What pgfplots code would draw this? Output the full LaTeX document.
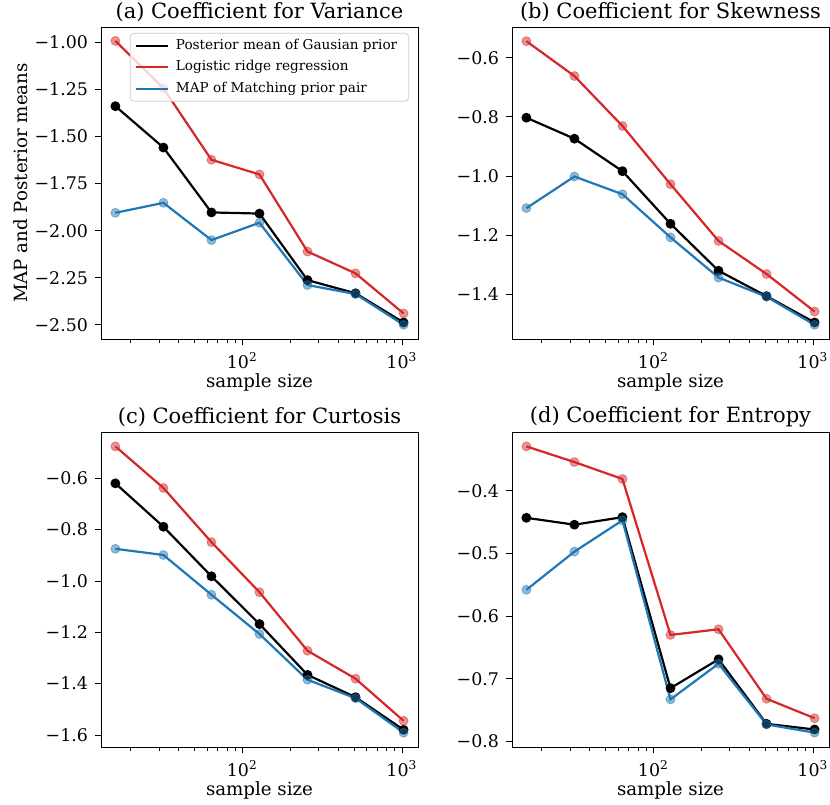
\documentclass[border=0pt]{standalone}
\usepackage{fontspec}
\setmainfont{DejaVu Serif}
\usepackage{pgfplots}
\pgfplotsset{compat=1.18}
\usepackage{pgfplotstable}

\definecolor{mplred}{HTML}{D62728}
\definecolor{mplblue}{HTML}{1F77B4}

\pgfplotstableread{
n black red blue
16 -1.338 -0.991 -1.905
32 -1.558 -1.243 -1.852
64 -1.903 -1.623 -2.050
128 -1.909 -1.701 -1.958
256 -2.263 -2.111 -2.289
512 -2.333 -2.227 -2.337
1024 -2.488 -2.440 -2.500
}\dataA
\pgfplotstableread{
n black red blue
16 -0.803 -0.544 -1.109
32 -0.874 -0.662 -1.002
64 -0.984 -0.831 -1.062
128 -1.162 -1.028 -1.208
256 -1.321 -1.220 -1.344
512 -1.407 -1.332 -1.409
1024 -1.496 -1.459 -1.504
}\dataB
\pgfplotstableread{
n black red blue
16 -0.620 -0.476 -0.875
32 -0.789 -0.638 -0.899
64 -0.982 -0.849 -1.054
128 -1.168 -1.044 -1.207
256 -1.366 -1.272 -1.385
512 -1.453 -1.381 -1.457
1024 -1.580 -1.545 -1.591
}\dataC
\pgfplotstableread{
n black red blue
16 -0.443 -0.329 -0.558
32 -0.454 -0.354 -0.497
64 -0.442 -0.381 -0.447
128 -0.715 -0.630 -0.733
256 -0.669 -0.621 -0.676
512 -0.772 -0.732 -0.773
1024 -0.781 -0.763 -0.786
}\dataD

\pgfplotsset{
 every axis title/.style={at={(0.5,1)}, above, yshift=-1pt},
 every axis/.append style={
  scale only axis, width=158.5pt, height=156pt,
  xmin=13.0, xmax=1261,
  xtick={100,1000}, xticklabels={10\textsuperscript{2},10\textsuperscript{3}},
  minor xtick={20,30,40,50,60,70,80,90,200,300,400,500,600,700,800,900},
  xtick pos=bottom, ytick pos=left, tick align=outside,
  major tick length=3pt, minor tick length=2pt,
  every tick/.style={black, line width=0.4pt},
  axis line style={line width=0.4pt},
  tick label style={font=\fontsize{8.7}{10}\selectfont},
  label style={font=\fontsize{9.1}{11}\selectfont},
  xlabel style={yshift=4.5pt},
  title style={font=\fontsize{10.5}{12}\selectfont},
  xlabel={sample size},
  clip=false,
 },
}

\newcommand{\series}[1]{%
 \addplot[black, line width=1.1pt] table[x=n,y=black]{#1};
 \addplot[mplred, line width=1.1pt] table[x=n,y=red]{#1};
 \addplot[mplblue, line width=1.1pt] table[x=n,y=blue]{#1};
 \addplot[black, only marks, mark=*, mark size=2.25pt, forget plot] table[x=n,y=black]{#1};
 \addplot[mplred, only marks, mark=*, mark size=2.25pt, opacity=0.5, forget plot] table[x=n,y=red]{#1};
 \addplot[mplblue, only marks, mark=*, mark size=2.25pt, opacity=0.5, forget plot] table[x=n,y=blue]{#1};
}

\begin{document}
\begin{tikzpicture}
\useasboundingbox (0,0) rectangle (415pt,-402pt);
\begin{semilogxaxis}[at={(50.5pt,-13.5pt)}, anchor=north west,
  title={(a) Coefficient for Variance},
  ylabel={MAP and Posterior means},
  ylabel shift=-3.5pt,
  ymin=-2.576, ymax=-0.917,
  ytick={-2.5,-2.25,-2,-1.75,-1.5,-1.25,-1},
  yticklabels={−2.50,−2.25,−2.00,−1.75,−1.50,−1.25,−1.00},
  legend style={at={(0.972,0.981)}, anchor=north east,
    font=\fontsize{6.8}{8}\selectfont, draw=black!20, fill=white,
    fill opacity=0.8, text opacity=1, rounded corners=2pt,
    row sep=1pt, inner xsep=2.5pt, inner ysep=1.5pt,
    nodes={inner ysep=1.5pt, inner xsep=3.25pt}},
  legend cell align=left,
  legend image code/.code={\draw[#1] (0pt,0pt) -- (16pt,0pt);},
]
\series{\dataA}
\legend{Posterior mean of Gausian prior, Logistic ridge regression, MAP of Matching prior pair}
\end{semilogxaxis}
\begin{semilogxaxis}[at={(256pt,-13.5pt)}, anchor=north west,
  title={(b) Coefficient for Skewness},
  ymin=-1.552, ymax=-0.496,
  ytick={-1.4,-1.2,-1.0,-0.8,-0.6},
  yticklabels={−1.4,−1.2,−1.0,−0.8,−0.6},
]
\series{\dataB}
\end{semilogxaxis}
\begin{semilogxaxis}[at={(50.5pt,-216pt)}, anchor=north west, height=157.5pt,
  title={(c) Coefficient for Curtosis},
  ymin=-1.647, ymax=-0.420,
  ytick={-1.6,-1.4,-1.2,-1.0,-0.8,-0.6},
  yticklabels={−1.6,−1.4,−1.2,−1.0,−0.8,−0.6},
]
\series{\dataC}
\end{semilogxaxis}
\begin{semilogxaxis}[at={(256pt,-216pt)}, anchor=north west, height=157.5pt,
  title={(d) Coefficient for Entropy},
  ymin=-0.809, ymax=-0.306,
  ytick={-0.8,-0.7,-0.6,-0.5,-0.4},
  yticklabels={−0.8,−0.7,−0.6,−0.5,−0.4},
]
\series{\dataD}
\end{semilogxaxis}
\end{tikzpicture}
\end{document}
